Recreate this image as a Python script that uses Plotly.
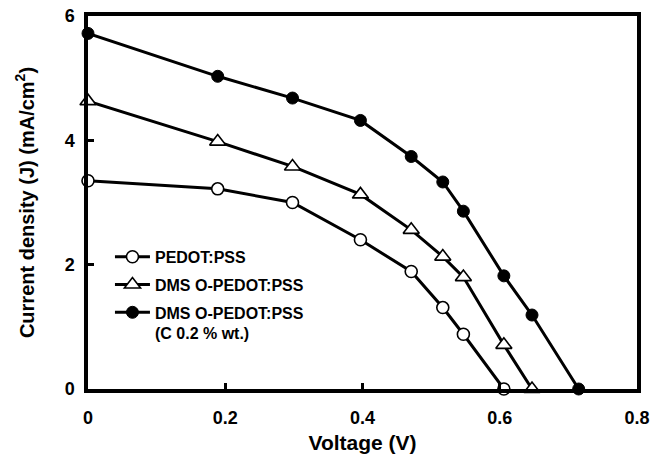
import plotly.graph_objects as go

# J-V curves of the three hole-transport layers
voltage = [0.0, 0.189, 0.298, 0.397, 0.471, 0.517, 0.547, 0.606, 0.647, 0.715]
pedot_j = [3.35, 3.22, 3.00, 2.40, 1.89, 1.31, 0.88, 0.0]
dms_j = [4.63, 3.98, 3.58, 3.13, 2.56, 2.13, 1.80, 0.71, 0.0]
dms_c_j = [5.72, 5.03, 4.68, 4.32, 3.74, 3.33, 2.86, 1.82, 1.19, 0.0]

x_ticks = [0, 0.2, 0.4, 0.6, 0.8]
x_tick_text = ["0", "0.2", "0.4", "0.6", "0.8"]
y_ticks = [0, 2, 4, 6]

FONT = "Liberation Sans, Arial, sans-serif"

series = [
    ("PEDOT:PSS", pedot_j, dict(symbol="circle", size=12, color="white",
                                 line=dict(color="black", width=1.6))),
    ("DMS O-PEDOT:PSS", dms_j, dict(symbol="triangle-up", size=14, color="white",
                                     line=dict(color="black", width=1.6))),
    ("DMS O-PEDOT:PSS<br>(C 0.2 % wt.)", dms_c_j,
     dict(symbol="circle", size=12, color="black",
          line=dict(color="black", width=1))),
]

fig = go.Figure()
for i, (name, j, marker) in enumerate(series):
    fig.add_trace(go.Scatter(
        x=voltage[:len(j)], y=j, name=name, mode="lines+markers",
        line=dict(color="black", width=3), marker=marker,
        legendgroup=f"g{i}", cliponaxis=False,
    ))

axis_common = dict(
    showline=True, linecolor="black", linewidth=3.5, mirror=True,
    ticks="inside", ticklen=6, tickwidth=2.5, tickcolor="black",
    showgrid=False, zeroline=False, automargin=False,
    tickfont=dict(family=FONT, size=18, color="black", weight="bold"),
)

fig.update_xaxes(
    range=[0, 0.8], tickvals=x_ticks, ticktext=x_tick_text,
    ticklabelstandoff=10,
    title=dict(text="Voltage (V)", standoff=9,
               font=dict(family=FONT, size=21, color="black", weight="bold")),
    **axis_common,
)
fig.update_yaxes(
    range=[0, 6], tickvals=y_ticks,
    ticklabelstandoff=6,
    title=dict(text="Current density (J) (mA/cm<sup>2</sup>)", standoff=26,
               font=dict(family=FONT, size=20, color="black", weight="bold")),
    **axis_common,
)

fig.update_layout(
    width=651, height=456,
    margin=dict(l=88, r=14, t=16, b=67),
    paper_bgcolor="white", plot_bgcolor="white",
    showlegend=True,
    legend=dict(
        x=0.04, y=0.40, xanchor="left", yanchor="top",
        bgcolor="rgba(0,0,0,0)", borderwidth=0,
        font=dict(family=FONT, size=16, color="black", weight="bold"),
        tracegroupgap=4, itemwidth=35, valign="top",
    ),
)

fig.write_html("out.html")
